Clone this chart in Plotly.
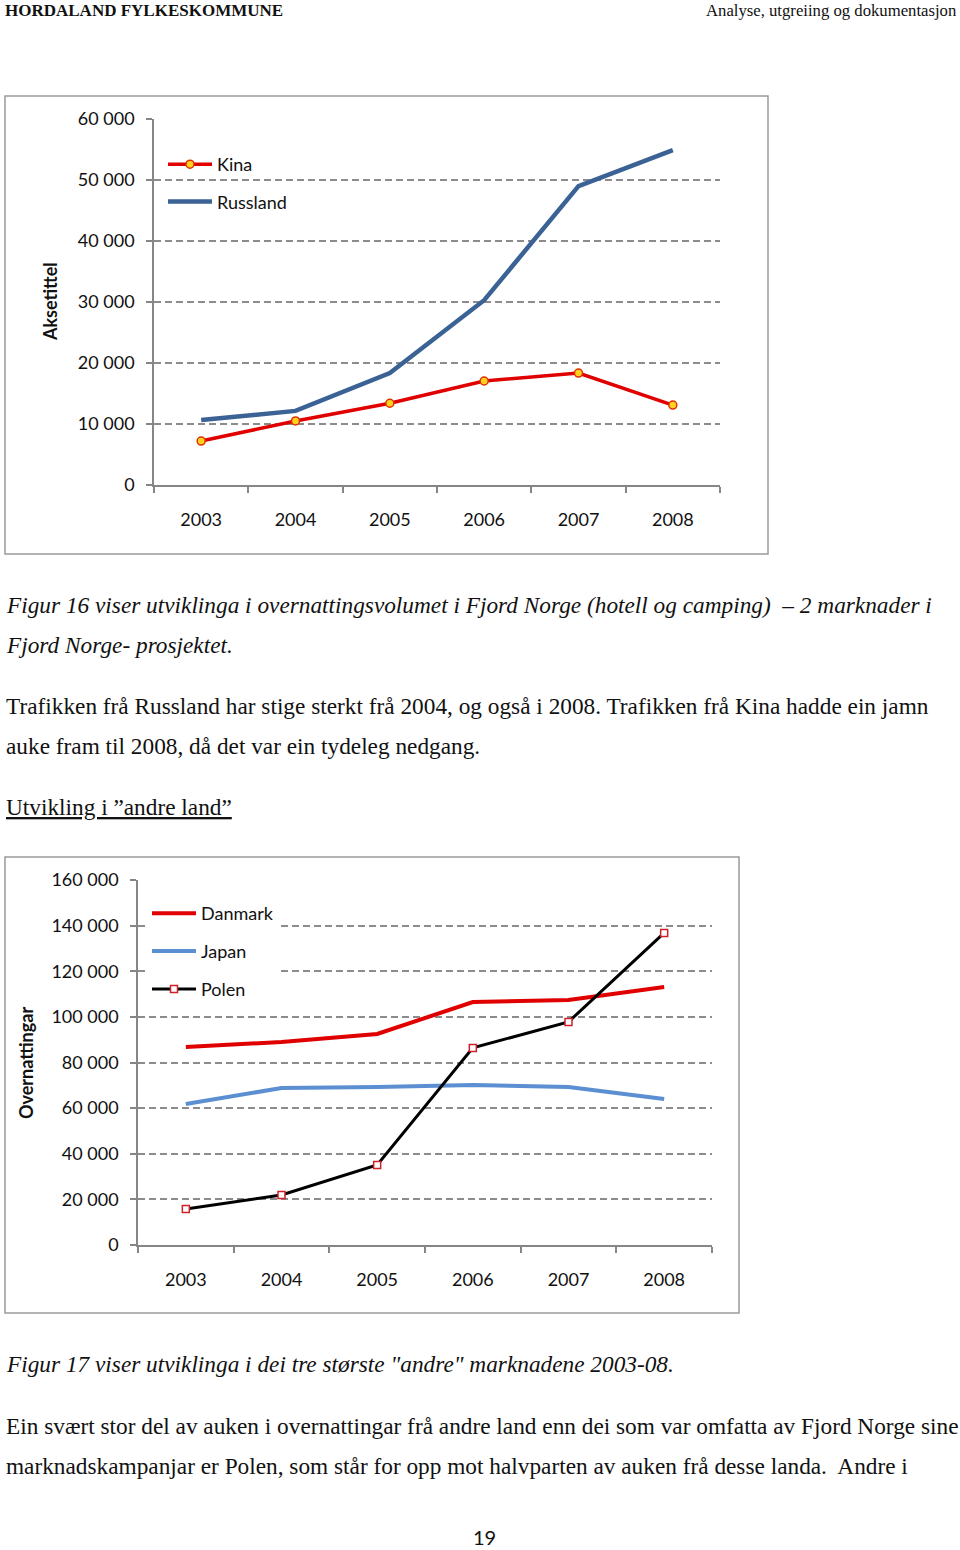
import plotly.graph_objects as go

W, H = 960, 1550

years = ["2003", "2004", "2005", "2006", "2007", "2008"]

# Figure 16
kina = [7200, 10500, 13400, 17050, 18350, 13100]
russland = [10650, 12150, 18350, 30300, 49000, 54900]
y1_ticks = [0, 10000, 20000, 30000, 40000, 50000, 60000]
y1_text = ["0", "10 000", "20 000", "30 000", "40 000", "50 000", "60 000"]

# Figure 17
danmark = [86800, 89000, 92500, 106500, 107400, 113100]
japan = [61800, 68800, 69300, 70100, 69300, 64000]
polen = [15800, 21900, 35100, 86400, 97800, 136800]
y2_ticks = [0, 20000, 40000, 60000, 80000, 100000, 120000, 140000, 160000]
y2_text = ["0", "20 000", "40 000", "60 000", "80 000", "100 000", "120 000", "140 000", "160 000"]


def px(x):
    return x / W


def py(y):
    return 1 - y / H


SANS = "Lato"
SERIF = "Liberation Serif"
AXC = "#868686"
GRID = "#8c8c8c"
BODY = 23.3

fig = go.Figure()

fig.add_trace(go.Scatter(x=years, y=kina, name="Kina", mode="lines+markers",
                         line=dict(color="#E00000", width=3.5),
                         marker=dict(symbol="circle", size=8, color="#FFD21F",
                                     line=dict(color="#E03000", width=1.5)),
                         xaxis="x", yaxis="y", legend="legend", legendgroup="a"))
fig.add_trace(go.Scatter(x=years, y=russland, name="Russland", mode="lines",
                         line=dict(color="#3A6294", width=4.5),
                         xaxis="x", yaxis="y", legend="legend", legendgroup="b"))

fig.add_trace(go.Scatter(x=years, y=danmark, name="Danmark", mode="lines",
                         line=dict(color="#E00000", width=4),
                         xaxis="x2", yaxis="y2", legend="legend2", legendgroup="c"))
fig.add_trace(go.Scatter(x=years, y=japan, name="Japan", mode="lines",
                         line=dict(color="#5B8FD2", width=4),
                         xaxis="x2", yaxis="y2", legend="legend2", legendgroup="d"))
fig.add_trace(go.Scatter(x=years, y=polen, name="Polen", mode="lines+markers",
                         line=dict(color="#000000", width=3),
                         marker=dict(symbol="square", size=7, color="white",
                                     line=dict(color="#D0202A", width=1.5)),
                         xaxis="x2", yaxis="y2", legend="legend2", legendgroup="e"))

xcommon = dict(type="category", range=[-0.5, 5.5], showline=True, linecolor=AXC, linewidth=1.5,
               ticks="outside", ticklen=6, tickcolor=AXC, tickwidth=1.5, tickson="boundaries",
               showgrid=False, zeroline=False, ticklabelstandoff=18, automargin=False,
               tickfont=dict(family=SANS, size=18, color="#111111"), fixedrange=True)
ycommon = dict(showline=True, linecolor=AXC, linewidth=1.5, ticks="outside", ticklen=6,
               tickcolor=AXC, tickwidth=1.5, showgrid=True, gridcolor=GRID, gridwidth=1.5,
               griddash="7px,4px", zeroline=False, ticklabelstandoff=8, automargin=False,
               tickfont=dict(family=SANS, size=18, color="#111111"), fixedrange=True)

fig.update_layout(
    width=W, height=H, margin=dict(l=0, r=0, t=0, b=0, autoexpand=False),
    paper_bgcolor="white", plot_bgcolor="rgba(0,0,0,0)",
    xaxis=dict(domain=[px(154), px(720)], anchor="y", **xcommon),
    yaxis=dict(domain=[py(485), py(119)], anchor="x", range=[0, 60000],
               tickvals=y1_ticks, ticktext=y1_text, **ycommon),
    xaxis2=dict(domain=[px(138), px(712)], anchor="y2", **xcommon),
    yaxis2=dict(domain=[py(1245), py(880)], anchor="x2", range=[0, 160000],
                tickvals=y2_ticks, ticktext=y2_text, **ycommon),
    legend=dict(x=px(163), y=py(146), xanchor="left", yanchor="top",
                bgcolor="rgba(0,0,0,0)", font=dict(family=SANS, size=18, color="#111111"),
                tracegroupgap=11, itemwidth=44, traceorder="grouped"),
    legend2=dict(x=px(147), y=py(895), xanchor="left", yanchor="top",
                 bgcolor="white", font=dict(family=SANS, size=18, color="#111111"),
                 tracegroupgap=11.5, itemwidth=44, traceorder="grouped"),
    showlegend=True,
)

shapes = [
    dict(type="rect", xref="paper", yref="paper", x0=px(5), x1=px(768), y0=py(554), y1=py(96),
         line=dict(color="#9a9a9a", width=1.5)),
    dict(type="rect", xref="paper", yref="paper", x0=px(5), x1=px(739), y0=py(1313), y1=py(857),
         line=dict(color="#9a9a9a", width=1.5)),
]
fig.update_layout(shapes=shapes)

ann = []


def text(x, y, s, size=BODY, family=SERIF, anchor="left", italic=False, bold=False, under=False, color="#111111"):
    f = dict(family=family, size=size, color=color)
    if italic:
        f["style"] = "italic"
    if bold:
        f["weight"] = "bold"
    if under:
        f["lineposition"] = "under"
    ann.append(dict(x=px(x), y=py(y), xref="paper", yref="paper", text=s, showarrow=False,
                    xanchor=anchor, yanchor="middle", borderpad=0, font=f))


text(4, 11, "HORDALAND FYLKESKOMMUNE", size=17, bold=True)
text(958, 11, "Analyse, utgreiing og dokumentasjon", size=16.7, anchor="right")

text(5, 605, "Figur 16 viser utviklinga i overnattingsvolumet i Fjord Norge (hotell og camping)  – 2 marknader i", italic=True)
text(5, 645, "Fjord Norge- prosjektet.", italic=True)
text(5, 706, "Trafikken frå Russland har stige sterkt frå 2004, og også i 2008. Trafikken frå Kina hadde ein jamn")
text(5, 746, "auke fram til 2008, då det var ein tydeleg nedgang.")
text(5, 807, "Utvikling i ”andre land”", under=True)
text(5, 1364, "Figur 17 viser utviklinga i dei tre største \"andre\" marknadene 2003-08.", italic=True)
text(5, 1426, "Ein svært stor del av auken i overnattingar frå andre land enn dei som var omfatta av Fjord Norge sine")
text(5, 1466, "marknadskampanjar er Polen, som står for opp mot halvparten av auken frå desse landa.  Andre i")
text(484, 1537, "19", size=20, family=SANS, anchor="center")

ann.append(dict(x=px(50), y=py(302), xref="paper", yref="paper", text="<b>Aksetittel</b>",
                showarrow=False, textangle=-90, xanchor="center", yanchor="middle",
                font=dict(family=SANS, size=18, color="#111111")))
ann.append(dict(x=px(26), y=py(1063), xref="paper", yref="paper", text="<b>Overnattingar</b>",
                showarrow=False, textangle=-90, xanchor="center", yanchor="middle",
                font=dict(family=SANS, size=18, color="#111111")))
fig.update_layout(annotations=ann)

fig.write_html("out.html", config={"displayModeBar": False},
               post_script="document.body.style.margin='0';")
